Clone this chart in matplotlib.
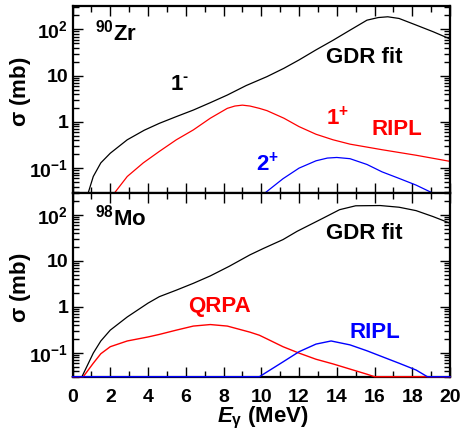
import numpy as np
import matplotlib
matplotlib.use("Agg")
import matplotlib.pyplot as plt
from matplotlib.ticker import FixedLocator, FuncFormatter, MultipleLocator, LogLocator, NullFormatter

plt.rcParams['font.family'] = ['Liberation Sans', 'DejaVu Sans']
plt.rcParams['font.weight'] = 'bold'
plt.rcParams['mathtext.fontset'] = 'custom'
plt.rcParams['mathtext.rm'] = 'Liberation Sans:bold'
plt.rcParams['mathtext.bf'] = 'Liberation Sans:bold'
plt.rcParams['mathtext.it'] = 'Liberation Sans:bold:italic'
plt.rcParams['mathtext.default'] = 'bf'

# 90Zr
zr_gdr_E = [0.84, 1.1, 1.5, 2.0, 2.9, 3.8, 4.6, 5.5, 6.4, 7.3, 8.2, 9.2, 10.3, 11.2, 12.0,
            12.9, 13.8, 14.7, 15.6, 16.2, 16.7, 17.3, 18.2, 19.1, 20.0]
zr_gdr_s = [0.03, 0.066, 0.13, 0.21, 0.41, 0.66, 0.93, 1.3, 1.8, 2.6, 3.8, 6.1, 9.5, 14.4, 21.8,
            36, 58, 96, 158, 180, 187, 172, 124, 89, 62]
zr_m1_E = [2.25, 2.9, 3.75, 4.6, 5.5, 6.4, 7.3, 8.2, 8.6, 9.0, 9.4, 9.9, 10.3, 11.2, 12.0,
           12.9, 13.8, 14.7, 16.4, 18.2, 20.0]
zr_m1_s = [0.03, 0.066, 0.13, 0.23, 0.41, 0.67, 1.2, 1.96, 2.2, 2.3, 2.2, 1.96, 1.75, 1.2, 0.79,
           0.54, 0.41, 0.33, 0.25, 0.19, 0.14]
zr_e2_E = [10.24, 11.15, 12.0, 12.9, 13.5, 14.0, 14.7, 15.6, 16.4, 17.3, 18.2, 19.0]
zr_e2_s = [0.03, 0.059, 0.1, 0.144, 0.165, 0.17, 0.16, 0.12, 0.083, 0.06, 0.043, 0.03]

# 98Mo
mo_gdr_E = [0.0, 0.5, 1.1, 1.5, 2.0, 2.9, 4.0, 4.6, 5.5, 6.4, 7.3, 8.3, 9.4, 10.1, 11.15, 11.9,
            12.9, 13.3, 14.15, 15.0, 16.3, 17.3, 18.2, 19.1, 20.0]
mo_gdr_s = [0, 0.03, 0.098, 0.18, 0.31, 0.6, 1.2, 1.66, 2.3, 3.24, 4.7, 7.6, 13.5, 18.5, 29, 44,
            71, 86, 130, 158, 160, 147, 124, 92, 66]
mo_qrpa_E = [0.0, 0.57, 1.1, 1.5, 2.0, 2.9, 4.0, 4.6, 5.5, 6.4, 7.3, 8.2, 9.0, 9.4, 9.9, 10.3,
             11.15, 12.0, 12.9, 13.8, 14.7, 15.6, 16.0, 20.0]
mo_qrpa_s = [0, 0.03, 0.059, 0.095, 0.135, 0.18, 0.22, 0.25, 0.31, 0.38, 0.41, 0.38, 0.31, 0.28,
             0.24, 0.2, 0.135, 0.098, 0.072, 0.057, 0.044, 0.034, 0.03, 0]
mo_ripl_E = [0.0, 9.9, 11.15, 12.0, 12.9, 13.7, 14.7, 15.6, 16.4, 17.3, 18.2, 18.8, 20.0]
mo_ripl_s = [0, 0.03, 0.063, 0.105, 0.154, 0.18, 0.148, 0.11, 0.082, 0.059, 0.042, 0.03, 0]

def ytick_label(v, pos):
    labels = {0.1: r'$10^{-1}$', 1: '1', 10: '10', 100: r'$10^{2}$'}
    for k in labels:
        if abs(v - k) < 1e-9 * max(k, 1):
            return labels[k]
    return ''

def style(ax, ymin, ymax):
    ax.set_yscale('log')
    ax.set_xlim(0, 20)
    ax.set_ylim(ymin, ymax)
    ax.xaxis.set_major_locator(MultipleLocator(2))
    ax.xaxis.set_minor_locator(MultipleLocator(1))
    ax.yaxis.set_major_locator(FixedLocator([0.1, 1, 10, 100]))
    ax.yaxis.set_minor_locator(LogLocator(base=10, subs=np.arange(2, 10)))
    ax.yaxis.set_major_formatter(FuncFormatter(ytick_label))
    ax.yaxis.set_minor_formatter(NullFormatter())
    ax.tick_params(which='both', direction='in', top=True, right=True, width=1)
    ax.tick_params(which='major', length=7)
    ax.tick_params(which='minor', length=4)
    ax.tick_params(axis='y', which='major', labelsize=14, pad=3)
    ax.tick_params(axis='x', which='major', labelsize=14, pad=9)
    for s in ax.spines.values():
        s.set_linewidth(1.6)

fig = plt.figure(figsize=(4.61, 4.34), dpi=100)
ax1 = fig.add_axes([0.1573, 0.5553, 0.8189, 0.4309])
ax2 = fig.add_axes([0.1573, 0.132, 0.8189, 0.4233])

style(ax1, 0.029, 320)
ax1.plot(zr_gdr_E, zr_gdr_s, color='black', lw=0.9)
ax1.plot(zr_m1_E, zr_m1_s, color='#ff0000', lw=0.9)
ax1.plot(zr_e2_E, zr_e2_s, color='#0000ff', lw=0.9)
ax1.tick_params(axis='x', labelbottom=False)
ax1.text(0.06, 0.856, r'$^{90}$Zr', transform=ax1.transAxes, fontsize=16, va='center')
ax1.text(0.258, 0.578, r'1$^{\text{-}}$', transform=ax1.transAxes, fontsize=16, va='center')
ax1.text(0.672, 0.722, 'GDR fit', transform=ax1.transAxes, fontsize=16, va='center')
ax1.text(0.672, 0.401, r'1$^{+}$', transform=ax1.transAxes, fontsize=16, va='center', color='#ff0000')
ax1.text(0.793, 0.337, 'RIPL', transform=ax1.transAxes, fontsize=16, va='center', color='#ff0000')
ax1.text(0.486, 0.15, r'2$^{+}$', transform=ax1.transAxes, fontsize=16, va='center', color='#0000ff')

ymin2 = 0.03
style(ax2, ymin2, 300)
# ROOT draws values under the minimum along the frame
ax2.plot(mo_gdr_E, np.clip(mo_gdr_s, ymin2, None), color='black', lw=0.9, zorder=3, clip_on=False)
ax2.plot(mo_qrpa_E, np.clip(mo_qrpa_s, ymin2, None), color='#ff0000', lw=1.0, zorder=3, clip_on=False)
ax2.plot(mo_ripl_E, np.clip(mo_ripl_s, ymin2, None), color='#0000ff', lw=1.0, zorder=3, clip_on=False)
ax2.text(0.06, 0.864, r'$^{98}$Mo', transform=ax2.transAxes, fontsize=16, va='center')
ax2.text(0.672, 0.78, 'GDR fit', transform=ax2.transAxes, fontsize=16, va='center')
ax2.text(0.305, 0.381, 'QRPA', transform=ax2.transAxes, fontsize=16, va='center', color='#ff0000')
ax2.text(0.733, 0.24, 'RIPL', transform=ax2.transAxes, fontsize=16, va='center', color='#0000ff')

fig.text(0.045, 0.788, r'$\sigma$ (mb)', rotation=90, fontsize=16, ha='center', va='center')
fig.text(0.045, 0.3376, r'$\sigma$ (mb)', rotation=90, fontsize=16, ha='center', va='center')
fig.text(0.57, 0.037, r'$\mathit{E}_{\gamma}$ (MeV)', fontsize=16, ha='center', va='center')

fig.savefig('out.png', dpi=100)
